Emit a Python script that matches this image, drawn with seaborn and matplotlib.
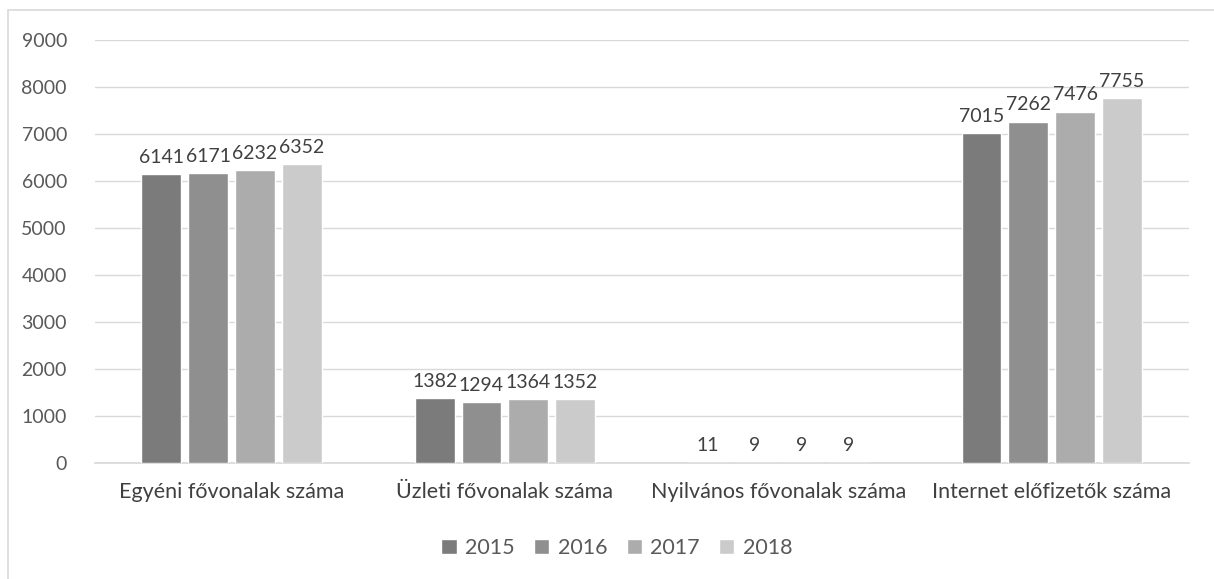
import matplotlib
matplotlib.use("Agg")
import matplotlib.pyplot as plt
import matplotlib.patches as mpatches
import seaborn as sns
import pandas as pd

# data
categories = ["Egyéni fővonalak száma", "Üzleti fővonalak száma",
              "Nyilvános fővonalak száma", "Internet előfizetők száma"]
years = ["2015", "2016", "2017", "2018"]
values_2015 = [6141, 1382, 11, 7015]
values_2016 = [6171, 1294, 9, 7262]
values_2017 = [6232, 1364, 9, 7476]
values_2018 = [6352, 1352, 9, 7755]
colors = ["#7b7b7b", "#8f8f8f", "#acacac", "#cbcbcb"]

series = [values_2015, values_2016, values_2017, values_2018]
rows = []
for year, vals in zip(years, series):
    for cat, v in zip(categories, vals):
        rows.append({"category": cat, "year": year, "value": v})
df = pd.DataFrame(rows)

sns.set_theme(style="white")
plt.rcParams["font.family"] = ["Lato", "DejaVu Sans"]

fig = plt.figure(figsize=(12.14, 5.79), dpi=100)
ax = fig.add_axes([0.078, 0.2003, 0.901, 0.7307])

# outer chart frame
fig.patches.append(mpatches.Rectangle((8 / 1214, -0.01), 1.02, 1 - 10 / 579 + 0.01,
                                      transform=fig.transFigure, fill=False,
                                      edgecolor="#d9d9d9", linewidth=1.2, zorder=0))

sns.barplot(data=df, x="category", y="value", hue="year", palette=colors,
            width=0.685, gap=0.15, ax=ax, saturation=1, legend=True, zorder=3)

for cont in ax.containers:
    ax.bar_label(cont, fmt="%d", padding=6, fontsize=14, color="#404040")

ax.set_ylim(0, 9000)
ax.set_yticks(range(0, 9001, 1000))
ax.yaxis.grid(True, color="#d9d9d9", linewidth=1)
ax.set_axisbelow(True)
for s in ["top", "right", "left"]:
    ax.spines[s].set_visible(False)
ax.spines["bottom"].set_color("#d9d9d9")
ax.tick_params(axis="y", length=0, labelsize=14, labelcolor="#595959", pad=20)
ax.tick_params(axis="x", length=0, labelsize=15.5, labelcolor="#404040", pad=14)
ax.set_xlabel("")
ax.set_ylabel("")

handles, labels = ax.get_legend_handles_labels()
ax.get_legend().remove()
fig.legend(handles, labels, loc="center", bbox_to_anchor=(617 / 1214, 1 - 548 / 579),
           ncol=4, frameon=False, fontsize=15.5, labelcolor="#595959",
           handlelength=0.7, handleheight=0.7, handletextpad=0.4, columnspacing=0.9)

fig.savefig("out.png", dpi=100)
